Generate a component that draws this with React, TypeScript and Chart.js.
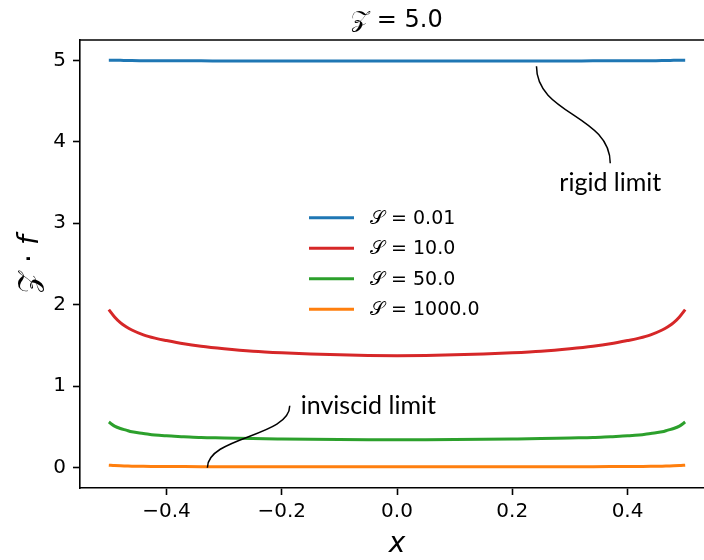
import React, { useEffect, useRef } from "react";
import { Chart, registerables } from "chart.js";

Chart.register(...registerables);

const xValues = [
  -0.5, -0.49, -0.48, -0.47, -0.46, -0.44, -0.42, -0.4, -0.37, -0.34, -0.3, -0.25, -0.2, -0.15, -0.1, -0.05,
  0, 0.05, 0.1, 0.15, 0.2, 0.25, 0.3, 0.34, 0.37, 0.4, 0.42, 0.44, 0.46, 0.47, 0.48, 0.49, 0.5,
];
const rigidValues = [
  5.0, 5.0, 5.0, 4.998, 4.997, 4.996, 4.995, 4.995, 4.994, 4.994, 4.993, 4.993, 4.993, 4.993, 4.993, 4.993,
  4.993, 4.993, 4.993, 4.993, 4.993, 4.993, 4.993, 4.994, 4.994, 4.995, 4.995, 4.996, 4.997, 4.998, 5.0, 5.0, 5.0,
];
const s10Values = [
  1.94, 1.85, 1.78, 1.73, 1.69, 1.63, 1.59, 1.56, 1.52, 1.49, 1.46, 1.43, 1.41, 1.395, 1.385, 1.378,
  1.375, 1.378, 1.385, 1.395, 1.41, 1.43, 1.46, 1.49, 1.52, 1.56, 1.59, 1.63, 1.69, 1.73, 1.78, 1.85, 1.94,
];
const s50Values = [
  0.56, 0.51, 0.48, 0.46, 0.44, 0.42, 0.4, 0.39, 0.38, 0.37, 0.365, 0.357, 0.352, 0.348, 0.345, 0.343,
  0.342, 0.343, 0.345, 0.348, 0.352, 0.357, 0.365, 0.37, 0.38, 0.39, 0.4, 0.42, 0.44, 0.46, 0.48, 0.51, 0.56,
];
const s1000Values = [
  0.03, 0.025, 0.022, 0.02, 0.018, 0.016, 0.015, 0.014, 0.013, 0.012, 0.011, 0.01, 0.01, 0.01, 0.01, 0.01,
  0.01, 0.01, 0.01, 0.01, 0.01, 0.01, 0.011, 0.012, 0.013, 0.014, 0.015, 0.016, 0.018, 0.02, 0.022, 0.025, 0.03,
];

const seriesLabels = ["𝒮 = 0.01", "𝒮 = 10.0", "𝒮 = 50.0", "𝒮 = 1000.0"];
const seriesColors = ["#1f77b4", "#d62728", "#2ca02c", "#ff7f0e"];
const seriesValues = [rigidValues, s10Values, s50Values, s1000Values];

const xTicks = [-0.4, -0.2, 0, 0.2, 0.4];
const yTicks = [0, 1, 2, 3, 4, 5];
const xRange = [-0.55, 0.55];
const yRange = [-0.25, 5.25];

const titleText = "𝒵 = 5.0";
const xLabelText = "x";
const yLabelMain = "𝒵 · ";
const yLabelVar = "f";

const annotationTexts = ["rigid limit", "inviscid limit"];
const annotationPoints = [
  [0.242, 5.0],
  [-0.329, 0.0],
];
const annotationTextPoints = [
  [0.37, 3.49],
  [-0.167, 0.76],
];

const MONO = "'DejaVu Sans', sans-serif";

const decorPlugin = {
  id: "decor",
  afterDraw(chart: any) {
    const ctx = chart.ctx as CanvasRenderingContext2D;
    const a = chart.chartArea;
    const xs = chart.scales.x;
    const ys = chart.scales.y;
    ctx.save();
    // top spine
    ctx.strokeStyle = "#000";
    ctx.lineWidth = 1.6;
    ctx.beginPath();
    ctx.moveTo(a.left - 0.8, a.top);
    ctx.lineTo(a.right, a.top);
    ctx.stroke();

    // title
    ctx.fillStyle = "#000";
    ctx.font = `24px ${MONO}`;
    ctx.textAlign = "center";
    ctx.textBaseline = "alphabetic";
    ctx.fillText(titleText, (a.left + a.right) / 2, a.top - 13);

    // x label
    ctx.font = `italic 28px ${MONO}`;
    ctx.fillText(xLabelText, (a.left + a.right) / 2, a.bottom + 64);

    // y label
    ctx.save();
    ctx.translate(38, (a.top + a.bottom) / 2);
    ctx.rotate(-Math.PI / 2);
    ctx.font = `28px ${MONO}`;
    const w1 = ctx.measureText(yLabelMain).width;
    ctx.font = `italic 28px ${MONO}`;
    const w2 = ctx.measureText(yLabelVar).width;
    const start = -(w1 + w2) / 2;
    ctx.textAlign = "left";
    ctx.font = `28px ${MONO}`;
    ctx.fillText(yLabelMain, start, 0);
    ctx.font = `italic 28px ${MONO}`;
    ctx.fillText(yLabelVar, start + w1, 0);
    ctx.restore();

    // legend
    const cx = (a.left + a.right) / 2;
    const cy = (a.top + a.bottom) / 2;
    const rowH = 30.5;
    ctx.font = `19px ${MONO}`;
    ctx.textAlign = "left";
    ctx.textBaseline = "middle";
    seriesLabels.forEach((lab, i) => {
      const y = cy - 1.5 * rowH + i * rowH - 0.5;
      ctx.strokeStyle = seriesColors[i];
      ctx.lineWidth = 3;
      ctx.beginPath();
      ctx.moveTo(cx - 88, y);
      ctx.lineTo(cx - 43, y);
      ctx.stroke();
      ctx.fillStyle = "#000";
      ctx.fillText(lab, cx - 27, y + 1);
    });

    // annotations
    ctx.strokeStyle = "#000";
    ctx.lineWidth = 1.5;
    ctx.font = `25px Lato, ${MONO}`;
    annotationTexts.forEach((t, i) => {
      const px = xs.getPixelForValue(annotationPoints[i][0]);
      const py = ys.getPixelForValue(annotationPoints[i][1]);
      const tx = xs.getPixelForValue(annotationTextPoints[i][0]);
      const ty = ys.getPixelForValue(annotationTextPoints[i][1]);
      ctx.fillStyle = "#000";
      if (i === 0) {
        const sy = py + 6;
        const ey = ty - 20;
        const my = (sy + ey) / 2;
        ctx.beginPath();
        ctx.moveTo(px, sy);
        ctx.bezierCurveTo(px, my, tx, my, tx, ey);
        ctx.stroke();
        ctx.textAlign = "center";
        ctx.textBaseline = "middle";
        ctx.fillText(t, tx, ty);
      } else {
        const sy = py;
        const ex = tx - 11;
        const ey = ty;
        const my = (sy + ey) / 2;
        ctx.beginPath();
        ctx.moveTo(px, sy);
        ctx.bezierCurveTo(px, my, ex, my, ex, ey);
        ctx.stroke();
        ctx.textAlign = "left";
        ctx.textBaseline = "middle";
        ctx.fillText(t, tx, ty);
      }
    });
    ctx.restore();
  },
};

const fmtX = (v: number) => v.toFixed(1).replace("-", "−");

export default function App() {
  const ref = useRef<HTMLCanvasElement | null>(null);
  useEffect(() => {
    if (!ref.current) return;
    const chart = new Chart(ref.current, {
      type: "line",
      data: {
        datasets: seriesValues.map((vals, i) => ({
          label: seriesLabels[i],
          data: xValues.map((x, j) => ({ x, y: vals[j] })),
          borderColor: seriesColors[i],
          backgroundColor: seriesColors[i],
          borderWidth: 3,
          pointRadius: 0,
          cubicInterpolationMode: "monotone" as const,
          fill: false,
        })),
      },
      options: {
        animation: false,
        responsive: false,
        devicePixelRatio: 1,
        layout: { padding: { top: 40, left: 0, right: 0, bottom: 0 } },
        plugins: { legend: { display: false }, tooltip: { enabled: false }, title: { display: false } },
        scales: {
          x: {
            type: "linear",
            min: xRange[0],
            max: xRange[1],
            afterBuildTicks: (s: any) => {
              s.ticks = xTicks.map((v) => ({ value: v }));
            },
            afterFit: (s: any) => {
              s.height = 72;
            },
            grid: { drawOnChartArea: false, drawTicks: true, tickLength: 7, tickWidth: 1.6, tickColor: "#000" },
            border: { display: true, color: "#000", width: 1.6 },
            ticks: {
              color: "#000",
              font: { family: MONO, size: 20 },
              padding: 5,
              maxRotation: 0,
              autoSkip: false,
              callback: (v: any) => fmtX(Number(v)),
            },
          },
          y: {
            type: "linear",
            min: yRange[0],
            max: yRange[1],
            afterBuildTicks: (s: any) => {
              s.ticks = yTicks.map((v) => ({ value: v }));
            },
            afterFit: (s: any) => {
              s.width = 80;
            },
            grid: { drawOnChartArea: false, drawTicks: true, tickLength: 7, tickWidth: 1.6, tickColor: "#000" },
            border: { display: true, color: "#000", width: 1.6 },
            ticks: {
              color: "#000",
              font: { family: MONO, size: 20 },
              padding: 7,
              autoSkip: false,
              callback: (v: any) => String(Math.round(Number(v))),
            },
          },
        },
      },
      plugins: [decorPlugin],
    });
    return () => chart.destroy();
  }, []);
  return (
    <div
      style={{
        position: "fixed",
        left: 0,
        top: 0,
        width: 704,
        height: 560,
        overflow: "hidden",
        background: "#fff",
      }}
    >
      <canvas ref={ref} width={714} height={560} style={{ display: "block" }} />
    </div>
  );
}
